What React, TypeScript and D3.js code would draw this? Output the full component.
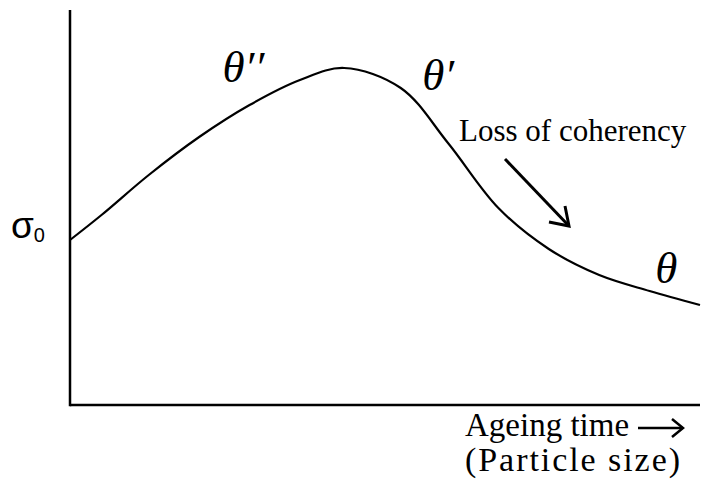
import React from "react";
import * as d3 from "d3";

// Yield strength vs ageing time (schematic, arbitrary units)
const ageingTime = [0, 5, 12.5, 20.5, 28.5, 36.5, 43.5, 52.5, 60, 68, 76, 84, 92, 100];
const strength = [41.25, 47.5, 57.5, 67, 75, 81.25, 84.25, 79.25, 65.5, 49.25, 39, 32.5, 28.5, 25];
const sigma0 = 41.25;

// Phase labels placed along the curve
const phaseX = [24.2, 55.9, 92.9];
const phaseY = [80.75, 78.75, 30.5];
const phaseText = ["θ′′", "θ′", "θ"];

const W = 701;
const H = 488;

export default function App() {
  const x = d3.scaleLinear().domain([0, 100]).range([70, 700]);
  const y = d3.scaleLinear().domain([0, 100]).range([405, 5]);

  const line = d3
    .line<number>()
    .x((_, i) => x(ageingTime[i]))
    .y((d) => y(d))
    .curve(d3.curveCatmullRom.alpha(0.5));

  const serif = "'Liberation Serif', 'Times New Roman', serif";
  const sans = "'Liberation Sans', Arial, sans-serif";

  return (
    <svg
      width={W}
      height={H}
      style={{ position: "absolute", left: 0, top: 0, background: "#fff" }}
    >
      {/* axes */}
      <line x1={x(0)} y1={10} x2={x(0)} y2={y(0) + 1.2} stroke="#000" strokeWidth={2.5} />
      <line x1={x(0)} y1={y(0)} x2={x(100)} y2={y(0)} stroke="#000" strokeWidth={2.5} />

      {/* strength curve */}
      <path d={line(strength) || ""} fill="none" stroke="#000" strokeWidth={2.2} />

      {/* sigma_0 tick label */}
      <text x={11} y={y(sigma0) - 2} fontFamily={sans} fontSize={37} fill="#000">
        σ
        <tspan fontSize={20} dy={4}>0</tspan>
      </text>

      {/* phase labels */}
      {phaseText.map((t, i) => (
        <text
          key={t}
          x={x(phaseX[i])}
          y={y(phaseY[i])}
          fontFamily={serif}
          fontStyle="italic"
          fontSize={45}
          fill="#000"
        >
          {t}
        </text>
      ))}

      {/* loss of coherency annotation */}
      <text x={459} y={141} fontFamily={serif} fontSize={31} fill="#000">
        Loss of coherency
      </text>
      <g stroke="#000" strokeWidth={3} fill="none" strokeLinecap="butt">
        <line x1={505} y1={159} x2={569} y2={226} />
        <polyline points="565,206 569,226 549,222" />
      </g>

      {/* x-axis caption */}
      <text x={465} y={436} fontFamily={serif} fontSize={33} fill="#000">
        Ageing time
      </text>
      <g stroke="#000" strokeWidth={2.5} fill="none">
        <line x1={638} y1={428} x2={683} y2={428} />
        <polyline points="672,419 683,428 672,437" />
      </g>
      <text
        x={465}
        y={471}
        fontFamily={serif}
        fontSize={34}
        fill="#000"
        textLength={215}
        lengthAdjust="spacing"
      >
        (Particle size)
      </text>
    </svg>
  );
}
